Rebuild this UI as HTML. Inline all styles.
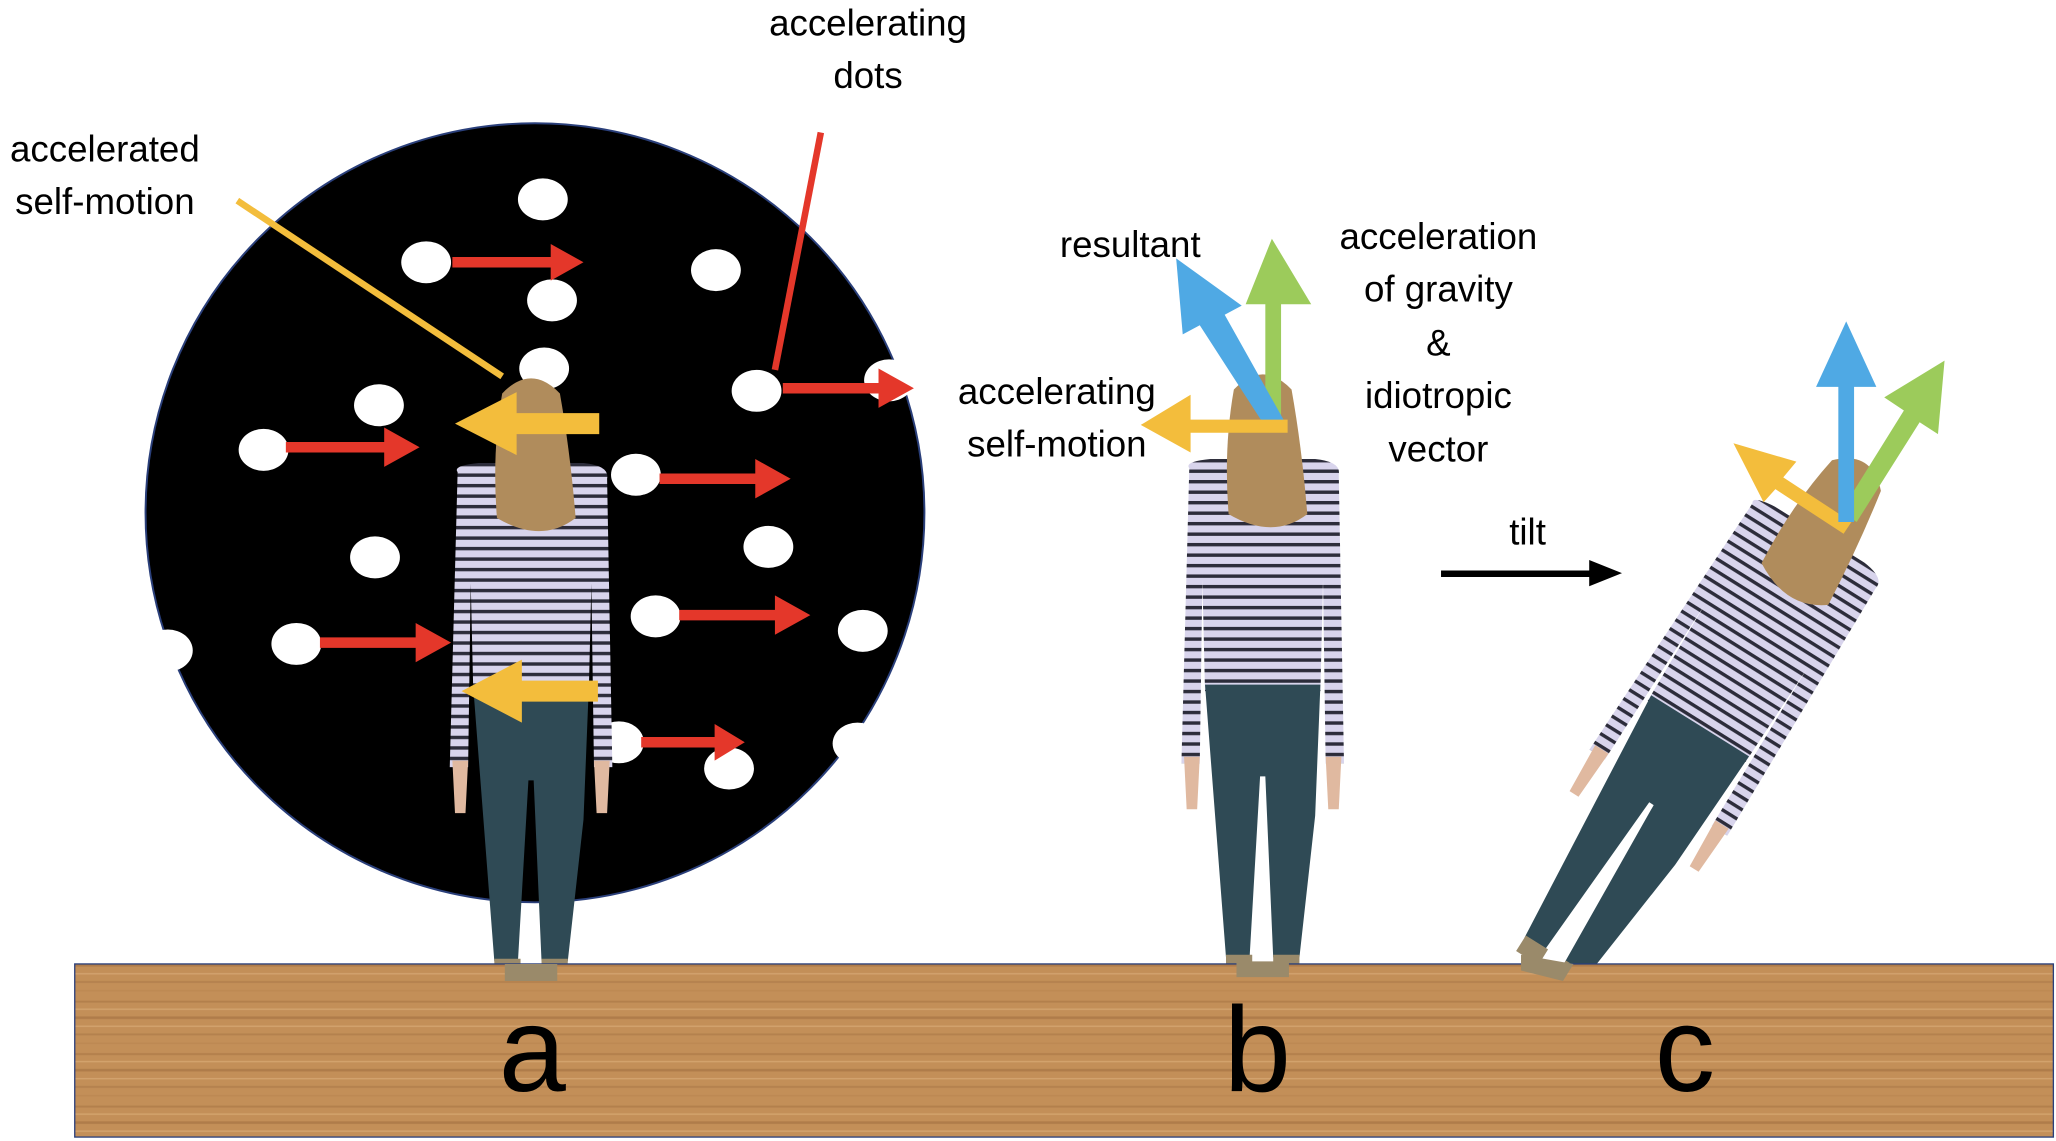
<!DOCTYPE html>
<html><head><meta charset="utf-8"><style>
html,body{margin:0;padding:0;background:#fff;width:2056px;height:1141px;overflow:hidden}
svg{display:block}
text{font-family:"Liberation Sans",sans-serif;fill:#000}
</style></head><body>
<svg width="2056" height="1141" viewBox="0 0 1568 870" preserveAspectRatio="none" xmlns="http://www.w3.org/2000/svg">
<defs>
<pattern id="wood" width="400" height="40" patternUnits="userSpaceOnUse">
<rect width="400" height="40" fill="#c38f58"/>
<rect y="3" width="400" height="1.5" fill="#a87645" opacity=".6"/>
<rect y="9" width="400" height="1" fill="#dcae7a" opacity=".7"/>
<rect y="15" width="400" height="2" fill="#9c6a3c" opacity=".5"/>
<rect y="22" width="400" height="1" fill="#e0b481" opacity=".6"/>
<rect y="28" width="400" height="1.5" fill="#a87645" opacity=".55"/>
<rect y="35" width="400" height="1" fill="#b7834f" opacity=".6"/>
</pattern>
<pattern id="stripe" width="10" height="8" patternUnits="userSpaceOnUse">
<rect width="10" height="8" fill="#d8d4ec"/>
<rect y="0" width="10" height="2.6" fill="#2c2c3a"/>
</pattern>
<g id="person">
<path d="M-56,-385 Q-60,-390 -40,-392 L40,-392 Q60,-390 58,-380 L62,-160 L48,-160 L46,-300 L44,-215 L-44,-215 L-46,-300 L-48,-160 L-62,-160 Z" fill="url(#stripe)"/>
<path d="M-60,-165 L-48,-165 L-50,-125 L-58,-125 Z M48,-165 L60,-165 L58,-125 L50,-125 Z" fill="#e0b9a0"/>
<path d="M-44,-220 L44,-220 L40,-120 L28,-12 L8,-12 L2,-150 L-2,-150 L-10,-12 L-28,-12 Z" fill="#2f4a55"/>
<path d="M-28,-14 L-8,-14 L-8,0 L-28,0 Z M8,-14 L28,-14 L28,0 L8,0 Z" fill="#9a8a6a"/>
<path d="M-22,-445 Q0,-468 22,-445 Q30,-400 34,-350 Q8,-330 -26,-350 Q-30,-400 -22,-445 Z" fill="#b08c5c"/>
</g>
</defs>

<ellipse cx="408" cy="391" rx="297" ry="297" fill="#000" stroke="#2a3f7a" stroke-width="1.5"/>
<g fill="#fff">
<ellipse cx="414" cy="152" rx="19" ry="16"/><ellipse cx="325" cy="200" rx="19" ry="16"/>
<ellipse cx="421" cy="229" rx="19" ry="16"/><ellipse cx="546" cy="206" rx="19" ry="16"/>
<ellipse cx="415" cy="281" rx="19" ry="16"/><ellipse cx="289" cy="309" rx="19" ry="16"/>
<ellipse cx="577" cy="298" rx="19" ry="16"/><ellipse cx="678" cy="290" rx="19" ry="16"/>
<ellipse cx="201" cy="343" rx="19" ry="16"/><ellipse cx="485" cy="362" rx="19" ry="16"/>
<ellipse cx="286" cy="425" rx="19" ry="16"/><ellipse cx="586" cy="417" rx="19" ry="16"/>
<ellipse cx="500" cy="470" rx="19" ry="16"/><ellipse cx="658" cy="481" rx="19" ry="16"/>
<ellipse cx="226" cy="491" rx="19" ry="16"/><ellipse cx="128" cy="496" rx="19" ry="16"/>
<ellipse cx="472" cy="566" rx="19" ry="16"/><ellipse cx="556" cy="586" rx="19" ry="16"/>
<ellipse cx="654" cy="567" rx="19" ry="16"/>
</g>
<rect x="0" y="0" width="100" height="870" fill="#fff"/>
<rect x="706" y="250" width="20" height="60" fill="#fff"/>

<g fill="#e4372a">
<path d="M345,196 L420,196 L420,186 L445,200 L420,214 L420,204 L345,204 Z"/>
<path d="M218,337 L293,337 L293,326 L320,341 L293,356 L293,345 L218,345 Z"/>
<path d="M597,292 L670,292 L670,281 L697,296 L670,311 L670,300 L597,300 Z"/>
<path d="M503,361 L576,361 L576,350 L603,365 L576,380 L576,369 L503,369 Z"/>
<path d="M518,465 L591,465 L591,454 L618,469 L591,484 L591,473 L518,473 Z"/>
<path d="M244,486 L317,486 L317,475 L344,490 L317,505 L317,494 L244,494 Z"/>
<path d="M489,562 L545,562 L545,552 L568,566 L545,580 L545,570 L489,570 Z"/>
</g>
<line x1="626" y1="101" x2="591" y2="282" stroke="#e4372a" stroke-width="5"/>
<line x1="181" y1="153" x2="383" y2="287" stroke="#f3bd3c" stroke-width="5"/>

<use href="#person" transform="translate(405,745)"/>
<use href="#person" transform="translate(963,742)"/>
<use href="#person" transform="translate(1180,740) rotate(32)"/>

<g fill="#f3bd3c">
<path d="M457,315 L394,315 L394,299 L347,323 L394,347 L394,331 L457,331 Z"/>
<path d="M456,519 L398,519 L398,503 L352,527 L398,551 L398,535 L456,535 Z"/>
</g>

<path d="M977,327 L977,232 L1000,232 L970,182 L950,232 L965,232 L965,327 Z" fill="#9ccb5b"/>
<path d="M980,322 L934,240 L947,233 L897,197 L902,255 L915,248 L968,330 Z" fill="#4fa9e4"/>
<path d="M982,320 L908,320 L908,301 L870,324 L908,345 L908,330 L982,330 Z" fill="#f3bd3c"/>

<path d="M1412,398 L1360,364 L1370,352 L1322,338 L1345,383 L1354,373 L1406,407 Z" fill="#f3bd3c"/>
<path d="M1416,398 L1464,322 L1478,331 L1483,275 L1437,303 L1452,313 L1404,390 Z" fill="#9ccb5b"/>
<path d="M1414,398 L1414,295 L1431,295 L1408,245 L1385,295 L1402,295 L1402,398 Z" fill="#4fa9e4"/>

<path d="M1099,435 L1212,435 L1212,427 L1237,437 L1212,447 L1212,440 L1099,440 Z" fill="#000"/>

<rect x="57" y="735" width="1509" height="132" fill="url(#wood)" stroke="#2a3f7a" stroke-width="1"/>
<path d="M385,735 L425,735 L425,748 L385,748 Z" fill="#9a8a6a"/>
<path d="M943,733 L983,733 L983,745 L943,745 Z" fill="#9a8a6a"/>
<path d="M1160,728 L1200,735 L1192,748 L1160,740 Z" fill="#9a8a6a"/>

<g font-size="92" text-anchor="middle">
<text x="406" y="832">a</text>
<text x="959" y="832">b</text>
<text x="1285" y="832">c</text>
</g>

<g font-size="28" text-anchor="middle">
<text x="662" y="27">accelerating</text>
<text x="662" y="67">dots</text>
<text x="80" y="123">accelerated</text>
<text x="80" y="163">self-motion</text>
<text x="862" y="196">resultant</text>
<text x="1097" y="190">acceleration</text>
<text x="1097" y="230">of gravity</text>
<text x="1097" y="271">&amp;</text>
<text x="1097" y="311">idiotropic</text>
<text x="1097" y="352">vector</text>
<text x="806" y="308">accelerating</text>
<text x="806" y="348">self-motion</text>
<text x="1165" y="415">tilt</text>
</g>
</svg>
</body></html>
